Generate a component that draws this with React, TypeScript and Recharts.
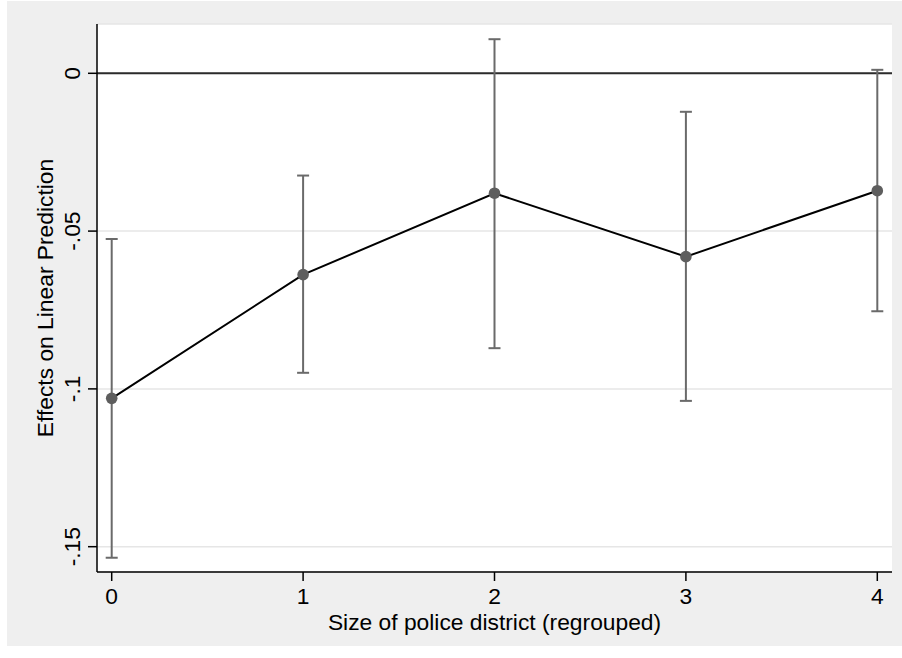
import React from "react";
import {
  ComposedChart,
  Line,
  XAxis,
  YAxis,
  CartesianGrid,
  ReferenceLine,
  ErrorBar,
} from "recharts";

const categories = [0, 1, 2, 3, 4];
const estimates = [-0.103, -0.0638, -0.038, -0.0581, -0.0372];
const lowerCI = [-0.1535, -0.0949, -0.0871, -0.1038, -0.0754];
const upperCI = [-0.0525, -0.0324, 0.0108, -0.0122, 0.0011];
const yTicks = [0, -0.05, -0.1, -0.15];
const yTickLabels = ["0", "-.05", "-.1", "-.15"];
const xTicks = [0, 1, 2, 3, 4];

const data = categories.map((c, i) => ({
  x: c,
  y: estimates[i],
  err: [estimates[i] - lowerCI[i], upperCI[i] - estimates[i]],
}));

const FONT = "'Liberation Sans', Arial, Helvetica, sans-serif";
const FS = 22.8;

const YTick = (props: any) => {
  const { x, y, payload } = props;
  const idx = yTicks.findIndex((t) => Math.abs(t - payload.value) < 1e-9);
  const label = idx >= 0 ? yTickLabels[idx] : String(payload.value);
  return (
    <text
      x={x}
      y={y}
      transform={`rotate(-90, ${x}, ${y})`}
      textAnchor="middle"
      fontSize={FS}
      fontFamily={FONT}
      fill="#000"
    >
      {label}
    </text>
  );
};

const YTitle = (props: any) => {
  const vb = props.viewBox || {};
  const cy = vb.y + vb.height / 2;
  const x = 53;
  return (
    <text
      x={x}
      y={cy}
      transform={`rotate(-90, ${x}, ${cy})`}
      textAnchor="middle"
      fontSize={FS}
      fontFamily={FONT}
      fill="#000"
    >
      Effects on Linear Prediction
    </text>
  );
};

const XTitle = (props: any) => {
  const vb = props.viewBox || {};
  const cx = vb.x + vb.width / 2;
  return (
    <text x={cx} y={629.5} textAnchor="middle" fontSize={FS} fontFamily={FONT} fill="#000">
      Size of police district (regrouped)
    </text>
  );
};

const Dot = (props: any) => {
  const { cx, cy } = props;
  if (cx == null || cy == null) return null;
  return <circle cx={cx} cy={cy} r={5.8} fill="#5e5e5e" stroke="none" />;
};

export default function App() {
  return (
    <div style={{ position: "absolute", left: 0, top: 0, width: 902, height: 658, background: "#fff" }}>
      <div
        style={{
          position: "absolute",
          left: 7,
          top: 1,
          width: 895,
          height: 645,
          background: "#efefef",
        }}
      />
      <div style={{ position: "absolute", left: 0, top: 0 }}>
        <ComposedChart
          width={902}
          height={658}
          data={data}
          margin={{ top: 24, right: 10, bottom: 0, left: 0 }}
        >
          <CartesianGrid
            vertical={false}
            horizontal={true}
            fill="#ffffff"
            stroke="#e6e6e6"
            strokeWidth={1.5}
          />
          <XAxis
            dataKey="x"
            type="number"
            domain={[-0.0768, 4.0768]}
            allowDataOverflow
            ticks={xTicks}
            interval={0}
            height={86}
            tickSize={9}
            tickMargin={7}
            axisLine={{ stroke: "#000", strokeWidth: 1.5 }}
            tickLine={{ stroke: "#000", strokeWidth: 1.5 }}
            tick={{ fontSize: FS, fontFamily: FONT, fill: "#000" }}
            label={<XTitle />}
          />
          <YAxis
            type="number"
            domain={[-0.15802, 0.01562]}
            allowDataOverflow
            ticks={yTicks}
            interval={0}
            width={97}
            tickSize={9}
            tickMargin={8}
            axisLine={{ stroke: "#000", strokeWidth: 1.5 }}
            tickLine={{ stroke: "#000", strokeWidth: 1.5 }}
            tick={<YTick />}
            label={<YTitle />}
          />
          <ReferenceLine y={0} stroke="#2b2b2b" strokeWidth={2} />
          <Line
            dataKey="y"
            stroke="none"
            dot={false}
            activeDot={false}
            isAnimationActive={false}
            legendType="none"
          >
            <ErrorBar dataKey="err" width={6} stroke="#6a6a6a" strokeWidth={2} direction="y" />
          </Line>
          <Line
            dataKey="y"
            type="linear"
            stroke="#000"
            strokeWidth={2}
            dot={<Dot />}
            activeDot={false}
            isAnimationActive={false}
          />
        </ComposedChart>
      </div>
    </div>
  );
}
